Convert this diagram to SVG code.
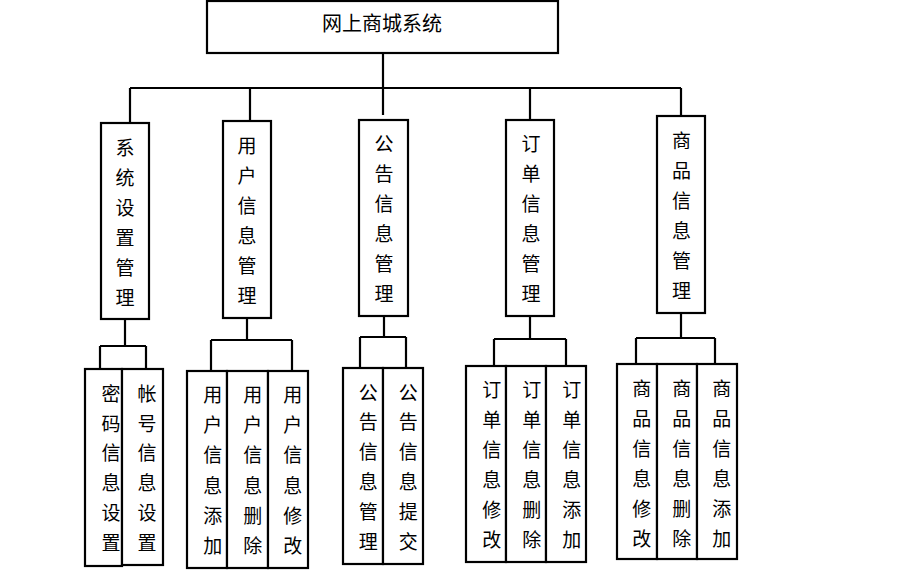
<svg xmlns="http://www.w3.org/2000/svg" width="915" height="586" viewBox="0 0 915 586">
<style>
.box{fill:#fff;stroke:#000;stroke-width:2.2}
.ln{stroke:#000;stroke-width:2.2;fill:none}
text{font-family:"Noto Sans CJK SC","Noto Sans CJK TC",sans-serif;font-size:19px;fill:#000;text-anchor:middle}
.title{font-size:20px}
</style>
<rect width="915" height="586" fill="#fff"/>
<g id="connectors">
<path class="ln" d="M383,53V88M130,88H681M383,88V115M130,88V123M250,88V121M530,88V120M681,88V116"/>
<path class="ln" d="M125,319V346M100,346H146M100,346V369M146,346V369"/>
<path class="ln" d="M247,318V340M211,340H292M211,340V371M292,340V371"/>
<path class="ln" d="M384,316V337M360,337H406M360,337V368M406,337V368"/>
<path class="ln" d="M530,316V339M494,339H566M494,339V366M566,339V368"/>
<path class="ln" d="M681,313V338M636,338H715M636,338V364M715,338V364"/>
</g>
<g id="root">
<rect class="box" x="207" y="1" width="351" height="52"/>
<text class="title" x="382" y="31">网上商城系统</text>
</g>
<g id="n_sys">
<rect class="box" x="101" y="123" width="48" height="196"/>
<text x="125" y="155"><tspan x="125">系</tspan><tspan x="125" dy="30">统</tspan><tspan x="125" dy="30">设</tspan><tspan x="125" dy="30">置</tspan><tspan x="125" dy="30">管</tspan><tspan x="125" dy="30">理</tspan></text>
</g>
<g id="n_user">
<rect class="box" x="223" y="121" width="48" height="197"/>
<text x="247" y="153"><tspan x="247">用</tspan><tspan x="247" dy="30">户</tspan><tspan x="247" dy="30">信</tspan><tspan x="247" dy="30">息</tspan><tspan x="247" dy="30">管</tspan><tspan x="247" dy="30">理</tspan></text>
</g>
<g id="n_notice">
<rect class="box" x="359" y="120" width="49" height="196"/>
<text x="384" y="151"><tspan x="384">公</tspan><tspan x="384" dy="30">告</tspan><tspan x="384" dy="30">信</tspan><tspan x="384" dy="30">息</tspan><tspan x="384" dy="30">管</tspan><tspan x="384" dy="30">理</tspan></text>
</g>
<g id="n_order">
<rect class="box" x="506" y="120" width="48" height="196"/>
<text x="531" y="150.5"><tspan x="531">订</tspan><tspan x="531" dy="30">单</tspan><tspan x="531" dy="30">信</tspan><tspan x="531" dy="30">息</tspan><tspan x="531" dy="30">管</tspan><tspan x="531" dy="30">理</tspan></text>
</g>
<g id="n_goods">
<rect class="box" x="657" y="116" width="48" height="197"/>
<text x="681.5" y="148"><tspan x="681.5">商</tspan><tspan x="681.5" dy="30">品</tspan><tspan x="681.5" dy="30">信</tspan><tspan x="681.5" dy="30">息</tspan><tspan x="681.5" dy="30">管</tspan><tspan x="681.5" dy="30">理</tspan></text>
</g>
<g id="n_pwd">
<rect class="box" x="85" y="369" width="37" height="197"/>
<text x="111" y="401"><tspan x="111">密</tspan><tspan x="111" dy="29.7">码</tspan><tspan x="111" dy="29.7">信</tspan><tspan x="111" dy="29.7">息</tspan><tspan x="111" dy="29.7">设</tspan><tspan x="111" dy="29.7">置</tspan></text>
</g>
<g id="n_acct">
<rect class="box" x="122" y="369" width="41" height="196"/>
<text x="147" y="401"><tspan x="147">帐</tspan><tspan x="147" dy="29.7">号</tspan><tspan x="147" dy="29.7">信</tspan><tspan x="147" dy="29.7">息</tspan><tspan x="147" dy="29.7">设</tspan><tspan x="147" dy="29.7">置</tspan></text>
</g>
<g id="n_user_add">
<rect class="box" x="187" y="371" width="40" height="197"/>
<text x="212.7" y="402"><tspan x="212.7">用</tspan><tspan x="212.7" dy="30.2">户</tspan><tspan x="212.7" dy="30.2">信</tspan><tspan x="212.7" dy="30.2">息</tspan><tspan x="212.7" dy="30.2">添</tspan><tspan x="212.7" dy="30.2">加</tspan></text>
</g>
<g id="n_user_del">
<rect class="box" x="227" y="371" width="41" height="197"/>
<text x="252.7" y="402"><tspan x="252.7">用</tspan><tspan x="252.7" dy="30.2">户</tspan><tspan x="252.7" dy="30.2">信</tspan><tspan x="252.7" dy="30.2">息</tspan><tspan x="252.7" dy="30.2">删</tspan><tspan x="252.7" dy="30.2">除</tspan></text>
</g>
<g id="n_user_mod">
<rect class="box" x="268" y="371" width="40" height="197"/>
<text x="292.7" y="402"><tspan x="292.7">用</tspan><tspan x="292.7" dy="30.2">户</tspan><tspan x="292.7" dy="30.2">信</tspan><tspan x="292.7" dy="30.2">息</tspan><tspan x="292.7" dy="30.2">修</tspan><tspan x="292.7" dy="30.2">改</tspan></text>
</g>
<g id="n_notice_mgr">
<rect class="box" x="343" y="368" width="40" height="196"/>
<text x="368.3" y="399.5"><tspan x="368.3">公</tspan><tspan x="368.3" dy="29.9">告</tspan><tspan x="368.3" dy="29.9">信</tspan><tspan x="368.3" dy="29.9">息</tspan><tspan x="368.3" dy="29.9">管</tspan><tspan x="368.3" dy="29.9">理</tspan></text>
</g>
<g id="n_notice_sub">
<rect class="box" x="383" y="368" width="40" height="196"/>
<text x="408.3" y="399.5"><tspan x="408.3">公</tspan><tspan x="408.3" dy="29.9">告</tspan><tspan x="408.3" dy="29.9">信</tspan><tspan x="408.3" dy="29.9">息</tspan><tspan x="408.3" dy="29.9">提</tspan><tspan x="408.3" dy="29.9">交</tspan></text>
</g>
<g id="n_order_mod">
<rect class="box" x="466" y="366" width="40" height="196"/>
<text x="491.7" y="397.2"><tspan x="491.7">订</tspan><tspan x="491.7" dy="30">单</tspan><tspan x="491.7" dy="30">信</tspan><tspan x="491.7" dy="30">息</tspan><tspan x="491.7" dy="30">修</tspan><tspan x="491.7" dy="30">改</tspan></text>
</g>
<g id="n_order_del">
<rect class="box" x="506" y="366" width="40" height="196"/>
<text x="531.7" y="397.2"><tspan x="531.7">订</tspan><tspan x="531.7" dy="30">单</tspan><tspan x="531.7" dy="30">信</tspan><tspan x="531.7" dy="30">息</tspan><tspan x="531.7" dy="30">删</tspan><tspan x="531.7" dy="30">除</tspan></text>
</g>
<g id="n_order_add">
<rect class="box" x="546" y="366" width="40" height="196"/>
<text x="571.7" y="397.2"><tspan x="571.7">订</tspan><tspan x="571.7" dy="30">单</tspan><tspan x="571.7" dy="30">信</tspan><tspan x="571.7" dy="30">息</tspan><tspan x="571.7" dy="30">添</tspan><tspan x="571.7" dy="30">加</tspan></text>
</g>
<g id="n_goods_mod">
<rect class="box" x="617" y="364" width="40" height="195"/>
<text x="641.7" y="395.5"><tspan x="641.7">商</tspan><tspan x="641.7" dy="30">品</tspan><tspan x="641.7" dy="30">信</tspan><tspan x="641.7" dy="30">息</tspan><tspan x="641.7" dy="30">修</tspan><tspan x="641.7" dy="30">改</tspan></text>
</g>
<g id="n_goods_del">
<rect class="box" x="657" y="364" width="40" height="195"/>
<text x="681.7" y="395.5"><tspan x="681.7">商</tspan><tspan x="681.7" dy="30">品</tspan><tspan x="681.7" dy="30">信</tspan><tspan x="681.7" dy="30">息</tspan><tspan x="681.7" dy="30">删</tspan><tspan x="681.7" dy="30">除</tspan></text>
</g>
<g id="n_goods_add">
<rect class="box" x="697" y="364" width="40" height="195"/>
<text x="721.7" y="395.5"><tspan x="721.7">商</tspan><tspan x="721.7" dy="30">品</tspan><tspan x="721.7" dy="30">信</tspan><tspan x="721.7" dy="30">息</tspan><tspan x="721.7" dy="30">添</tspan><tspan x="721.7" dy="30">加</tspan></text>
</g>
</svg>
